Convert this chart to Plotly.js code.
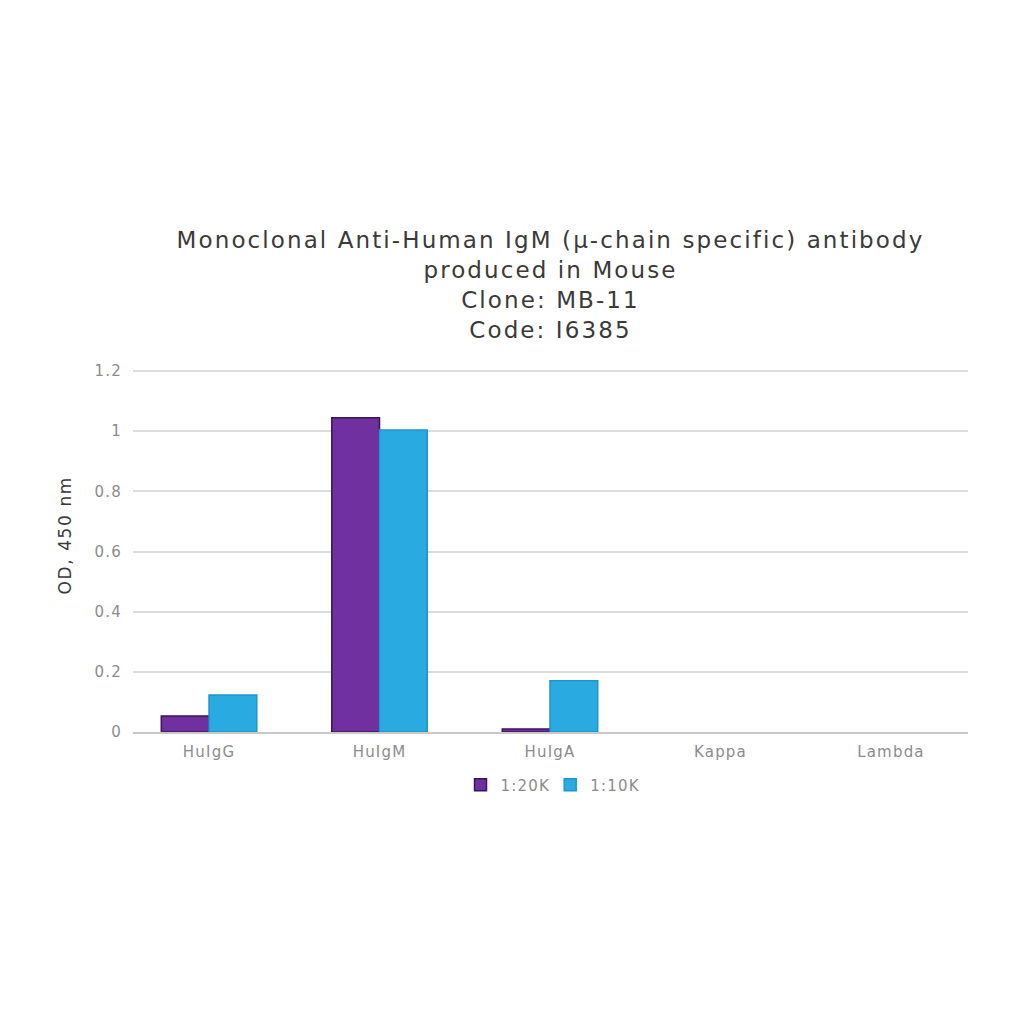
<!DOCTYPE html>
<html><head><meta charset="utf-8">
<script src="https://cdn.plot.ly/plotly-3.0.1.min.js"></script>
<style>
html,body{margin:0;padding:0;background:#fff}#chart{width:1024px;height:1024px}
#chart .gtitle{letter-spacing:2.1px}
#chart .xtick text,#chart .ytick text,#chart .legendtext{letter-spacing:1.2px}
#chart .annotation-text{letter-spacing:1.6px}
</style>
</head><body><div id="chart"></div>
<script>
const categories = ["HuIgG", "HuIgM", "HuIgA", "Kappa", "Lambda"];
const seriesNames = ["1:20K", "1:10K"];
const values20K = [0.053, 1.045, 0.01, 0, 0];
const values10K = [0.123, 1.004, 0.17, 0, 0];
const yTicks = [0, 0.2, 0.4, 0.6, 0.8, 1, 1.2];

const outline = v => v.map(d => d > 0 ? 1.5 : 0);
const data = [
  {type: 'bar', name: seriesNames[0], x: categories, y: values20K,
   marker: {color: '#7030a0', line: {color: '#3a1458', width: outline(values20K)}}},
  {type: 'bar', name: seriesNames[1], x: categories, y: values10K,
   marker: {color: '#29abe2', line: {color: '#1f95c8', width: outline(values10K)}}}
];
const layout = {
  width: 1024, height: 1024,
  paper_bgcolor: '#fff', plot_bgcolor: '#fff',
  font: {family: 'DejaVu Sans, Verdana, sans-serif', color: '#8c8c8c', size: 15},
  margin: {l: 133, r: 56, t: 368, b: 292},
  title: {text: 'Monoclonal Anti-Human IgM (μ-chain specific) antibody<br>produced in Mouse<br>Clone: MB-11<br>Code: I6385',
          font: {size: 23, color: '#3a3a3a'}, x: 0.5, xref: 'paper', y: 1 - 248/1024, yref: 'container', yanchor: 'top'},
  barmode: 'group', bargap: 0.44, bargroupgap: 0,
  showlegend: true,
  xaxis: {range: [-0.446, 4.452], showgrid: false, showline: true, linecolor: '#c8c8c8', linewidth: 1.5, ticks: '',
          tickfont: {size: 15, color: '#8c8c8c'}, ticklabelstandoff: 5},
  yaxis: {range: [0, 1.21], tickvals: yTicks, showgrid: true, gridcolor: '#dcdcdc', gridwidth: 1.5,
          zeroline: false, showline: false, ticks: '', tickfont: {size: 15, color: '#8c8c8c'}, ticklabelstandoff: 10},
  annotations: [{text: 'OD, 450 nm', textangle: -90, xref: 'paper', yref: 'paper', x: -0.0814, y: 0.54,
                 xanchor: 'center', yanchor: 'middle', showarrow: false, font: {size: 17, color: '#3a3a3a'}}],
  legend: {orientation: 'h', x: 0.5, xanchor: 'center', y: -0.1, yanchor: 'top', font: {size: 15, color: '#8c8c8c'}, itemwidth: 30}
};
Plotly.newPlot('chart', data, layout, {displayModeBar: false});
</script></body></html>
